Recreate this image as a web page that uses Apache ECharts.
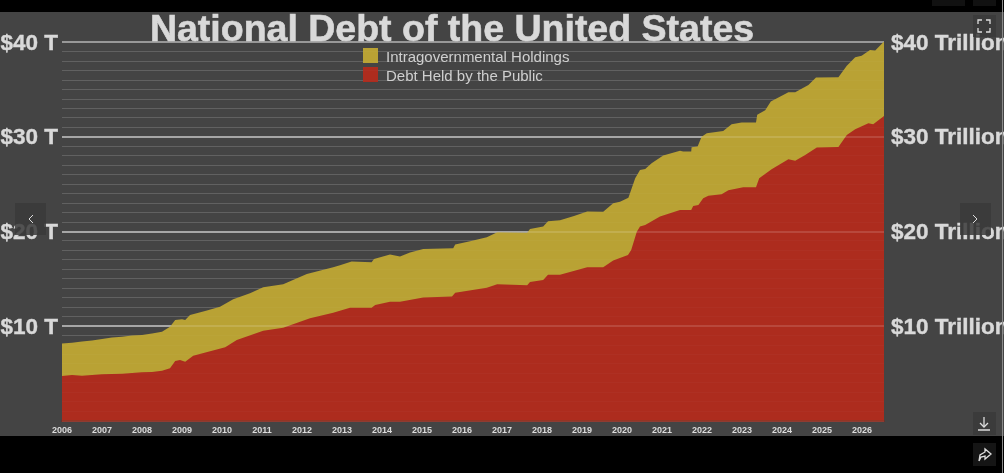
<!DOCTYPE html>
<html>
<head>
<meta charset="utf-8">
<style>
html,body{margin:0;padding:0;width:1004px;height:473px;overflow:hidden;background:linear-gradient(#000 12px,#444 12px,#444 436px,#000 436px);}
#c{width:1004px;height:473px;}
</style>
<script src="https://cdn.jsdelivr.net/npm/echarts@6/dist/echarts.min.js"></script>
</head>
<body>
<div id="c"></div>
<script>
const titleText = 'National Debt of the United States';
const seriesNames = ['Intragovernmental Holdings', 'Debt Held by the Public'];
const faintMajorLevels = [10, 20, 30];
const faintMinorLevels = [1,2,3,4,5,6,7,8,9,11,12,13,14,15,16,17,18,19,21,22,23,24,25,26,27,28,29,31,32,33,34,35,36,37,38,39];

// Top of the gold band: public debt + intragovernmental holdings ($ trillion)
const totalYears = [2006,2006.25,2006.5,2006.75,2007,2007.25,2007.5,2007.75,2008,2008.25,2008.5,2008.7,2008.83,2009,2009.08,2009.2,2009.6,2009.95,2010.28,2010.7,2011.03,2011.53,2012.12,2012.78,2012.95,2013.24,2013.74,2013.8,2014.2,2014.45,2014.7,2015.03,2015.78,2015.83,2016.2,2016.62,2016.88,2017.63,2017.7,2018.03,2018.15,2018.45,2018.8,2019.13,2019.53,2019.78,2019.95,2020.16,2020.33,2020.45,2020.58,2020.74,2021.03,2021.45,2021.53,2021.73,2021.74,2021.89,2021.99,2022.12,2022.53,2022.74,2022.99,2023.35,2023.38,2023.58,2023.72,2024.16,2024.33,2024.66,2024.85,2025.41,2025.62,2025.83,2025.99,2026.2,2026.33,2026.55];
const totalDebt  = [8.14,8.22,8.35,8.45,8.6,8.78,8.85,8.98,9.04,9.2,9.39,9.92,10.62,10.7,10.62,11.15,11.6,12.03,12.81,13.45,14.08,14.4,15.49,16.19,16.4,16.79,16.72,17.07,17.53,17.32,17.75,18.13,18.2,18.6,18.95,19.37,19.9,19.85,20.24,20.5,21.05,21.16,21.6,22.1,22.07,22.96,23.13,23.55,25.6,26.48,26.59,27.19,28.0,28.52,28.42,28.42,28.88,28.95,30.0,30.36,30.6,31.31,31.48,31.5,32.3,32.8,33.7,34.7,34.7,35.46,36.24,36.27,37.5,38.4,38.56,39.16,39.1,40.05];

// Top of the red band: debt held by the public ($ trillion)
const publicYears = [2006,2006.25,2006.5,2006.75,2007,2007.5,2008,2008.25,2008.5,2008.7,2008.83,2008.95,2009.08,2009.28,2010.08,2010.37,2011.03,2011.53,2012.2,2012.78,2013.2,2013.74,2013.83,2014.2,2014.45,2015.03,2015.75,2015.83,2016.62,2016.88,2017.63,2017.7,2018.03,2018.15,2018.45,2019.13,2019.53,2019.78,2020.15,2020.23,2020.37,2020.45,2020.58,2020.95,2021.45,2021.73,2021.78,2021.91,2022.03,2022.16,2022.49,2022.66,2023.03,2023.35,2023.43,2023.74,2024.16,2024.33,2024.58,2024.87,2025.41,2025.62,2025.83,2026.16,2026.28,2026.55];
const publicDebt  = [4.7,4.8,4.74,4.8,4.9,4.95,5.1,5.12,5.26,5.52,6.29,6.4,6.22,6.85,7.74,8.51,9.49,9.81,10.8,11.4,11.92,11.92,12.2,12.56,12.56,13.0,13.1,13.5,14.04,14.4,14.3,14.64,14.85,15.4,15.4,16.2,16.2,16.9,17.5,18.02,19.96,20.5,20.66,21.55,22.25,22.25,22.67,22.78,23.48,23.76,23.9,24.33,24.65,24.65,25.6,26.55,27.6,27.46,28.07,28.84,28.91,30.18,30.78,31.42,31.31,32.19];

const pairs = (xs, ys) => xs.map((x, i) => [x, ys[i]]);

const chart = echarts.init(document.getElementById('c'), null, {renderer: 'canvas'});
const FONT = '"Liberation Sans", Arial, sans-serif';
const BTN = '#3a3a3a', ICON = '#dddddd';

function icon(points, w) {
  return {type: 'polyline', shape: {points}, silent: true, z: 50,
          style: {stroke: ICON, lineWidth: w || 1.3, fill: null}};
}
function btn(x, y, w, h, fill) {
  return {type: 'rect', shape: {x, y, width: w, height: h}, silent: true, z: 49,
          style: {fill: fill || BTN, opacity: fill ? 1 : 0.85}};
}
const yLabel = {
  color: '#d9d9d9', fontFamily: FONT, fontWeight: 'bold', fontSize: 22.5,
  verticalAlign: 'top', lineHeight: 3,
  textBorderColor: '#d9d9d9', textBorderWidth: 0.4
};

chart.setOption({
  animation: false,
  backgroundColor: 'transparent',
  title: {
    text: titleText, left: 452, top: 12, padding: 0, textAlign: 'center',
    textStyle: {color: '#d9d9d9', fontFamily: FONT, fontWeight: 'bold', fontSize: 37.5,
                textBorderColor: '#d9d9d9', textBorderWidth: 0.6}
  },
  legend: {
    orient: 'vertical', left: 363, top: 48, padding: 0, itemWidth: 15, itemHeight: 15, itemGap: 2,
    icon: 'rect', selectedMode: false,
    data: seriesNames,
    formatter: '{a|{name}}',
    textStyle: {
      color: '#cfcfcf', fontFamily: FONT, fontSize: 15, padding: [0, 0, 0, 3],
      rich: {a: {color: '#cfcfcf', fontFamily: FONT, fontSize: 15, padding: [4, 0, 0, 0]}}
    }
  },
  grid: {left: 62, right: 120, top: 42, bottom: 52.5, outerBoundsMode: 'none', containLabel: false},
  xAxis: {
    type: 'value', min: 2006, max: 2026.55, interval: 1, z: 5,
    axisLine: {show: true, lineStyle: {color: '#8f1e10', width: 1.5}},
    axisTick: {show: false},
    splitLine: {show: false},
    axisLabel: {
      show: true, showMaxLabel: false, showMinLabel: true, margin: 6,
      color: '#dcdcdc', fontFamily: FONT, fontWeight: 'bold', fontSize: 9,
      formatter: v => Number.isInteger(v) ? String(v) : ''
    }
  },
  yAxis: [
    {
      type: 'value', min: 0, max: 40, interval: 10, position: 'left',
      axisLine: {show: false}, axisTick: {show: false},
      axisLabel: Object.assign({margin: 4, formatter: v => v === 0 ? '' : '$' + v + ' T'}, yLabel),
      splitLine: {show: true, lineStyle: {color: '#b5b5b5', width: 1.5}},
      minorTick: {show: false, splitNumber: 10},
      minorSplitLine: {show: true, lineStyle: {color: '#5e5e5e', width: 1.2}}
    },
    {
      type: 'value', min: 0, max: 40, interval: 10, position: 'right',
      axisLine: {show: false}, axisTick: {show: false}, splitLine: {show: false},
      axisLabel: Object.assign({margin: 7, formatter: v => v === 0 ? '' : '$' + v + ' Trillion'}, yLabel)
    }
  ],
  series: [
    {
      name: seriesNames[0], type: 'line', showSymbol: false, silent: true,
      data: pairs(totalYears, totalDebt),
      lineStyle: {width: 0},
      itemStyle: {color: '#b9a234'},
      areaStyle: {color: '#b9a234', opacity: 1}
    },
    {
      name: seriesNames[1], type: 'line', showSymbol: false, silent: true,
      data: pairs(publicYears, publicDebt),
      lineStyle: {width: 0},
      itemStyle: {color: '#ad2c1e'},
      areaStyle: {color: '#ad2c1e', opacity: 1},
      // the grid lines show faintly through the filled areas
      markLine: {
        silent: true, symbol: 'none', label: {show: false}, animation: false,
        lineStyle: {color: 'rgba(255,255,255,0.18)', type: 'solid', width: 1.5},
        data: faintMajorLevels.map(v => ({yAxis: v})).concat(
          faintMinorLevels.map(v => ({yAxis: v, lineStyle: {color: 'rgba(255,255,255,0.025)', width: 1.2}})))
      }
    }
  ],
  graphic: {elements: [
    // window chrome overlays
    {type: 'rect', shape: {x: 1002, y: 0, width: 1, height: 473}, silent: true, z: 48, style: {fill: '#8a8a8a'}},
    btn(932, 0, 33, 6, '#111111'), btn(973, 0, 23, 6, '#111111'),
    btn(973, 15, 23, 22),
    icon([[978,24],[978,20],[982,20]]), icon([[986,20],[990,20],[990,24]]),
    icon([[978,28],[978,32],[982,32]]), icon([[986,32],[990,32],[990,28]]),
    btn(15, 203, 31, 32), icon([[33,215],[29,219],[33,223]], 1),
    btn(960, 203, 31, 32), icon([[973,215],[977,219],[973,223]], 1),
    btn(973, 412, 23, 23),
    icon([[984,417],[984,426]]), icon([[980,423],[984,427],[988,423]]), icon([[978,430],[990,430]], 1.5),
    btn(973, 443, 23, 23, '#151515'),
    icon([[979,461],[980,455],[985,452],[985,449],[991,454],[985,459],[985,456],[981,457],[979,461]])
  ]}
});
</script>
</body>
</html>
